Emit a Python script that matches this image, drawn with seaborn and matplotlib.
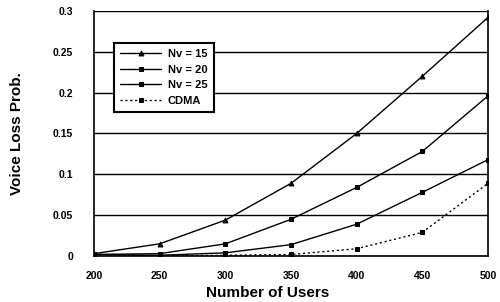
import numpy as np
import pandas as pd
import matplotlib
matplotlib.use("Agg")
import matplotlib.pyplot as plt
import seaborn as sns

# valores
users = [200, 250, 300, 350, 400, 450, 500]
nv15 = [0.003, 0.015, 0.044, 0.089, 0.150, 0.220, 0.292]
nv20 = [0.002, 0.003, 0.015, 0.045, 0.084, 0.128, 0.196]
nv25 = [0.002, 0.001, 0.004, 0.014, 0.039, 0.078, 0.118]
cdma = [0.002, 0.000, 0.001, 0.002, 0.009, 0.029, 0.089]
series_names = ["Nv = 15", "Nv = 20", "Nv = 25", "CDMA"]
y_ticks = [0, 0.05, 0.1, 0.15, 0.2, 0.25, 0.3]
y_tick_labels = ["0", "0.05", "0.1", "0.15", "0.2", "0.25", "0.3"]

df = pd.DataFrame({
    "users": users * 4,
    "prob": nv15 + nv20 + nv25 + cdma,
    "serie": np.repeat(series_names, len(users)),
})

sns.set_style("white")
plt.rcParams['font.family'] = ['Liberation Sans', 'DejaVu Sans']
plt.rcParams['font.weight'] = 'bold'
plt.rcParams['text.color'] = 'black'
plt.rcParams['axes.labelcolor'] = 'black'
plt.rcParams['xtick.color'] = 'black'
plt.rcParams['ytick.color'] = 'black'

fig = plt.figure(figsize=(5, 3.02), dpi=100)
ax = fig.add_axes([0.188, 0.152, 0.788, 0.812])

# linhas de grade horizontais
for t in y_ticks:
    ax.axhline(t, color="black", lw=1.0, zorder=1)

sns.lineplot(data=df, x="users", y="prob", hue="serie", style="serie",
             palette=["black"] * 4,
             dashes={"Nv = 15": "", "Nv = 20": "", "Nv = 25": "", "CDMA": (1.5, 2)},
             markers={"Nv = 15": "^", "Nv = 20": "s", "Nv = 25": "s", "CDMA": "s"},
             markersize=3.5, linewidth=1.0, markeredgecolor="black",
             ax=ax, zorder=3)

ax.set_xlim(200, 500)
ax.set_ylim(0, 0.3)
ax.set_xticks(users)
ax.set_xticklabels([str(u) for u in users], fontsize=7.5, fontweight="bold")
ax.set_yticks(y_ticks)
ax.set_yticklabels(y_tick_labels, fontsize=7.5, fontweight="bold")
ax.tick_params(axis="both", length=0)
ax.tick_params(axis="x", pad=11)
ax.tick_params(axis="y", pad=15)
ax.set_xlabel("Number of Users", fontsize=11, fontweight="bold")
ax.set_ylabel("Voice Loss Prob.", fontsize=11, fontweight="bold")
ax.xaxis.set_label_coords(0.44, -0.12)
ax.yaxis.set_label_coords(-0.178, 0.5)

for s in ["left", "right", "bottom"]:
    ax.spines[s].set_color("black")
    ax.spines[s].set_linewidth(1.2)
ax.spines["top"].set_visible(False)

leg = ax.legend(loc="upper left", bbox_to_anchor=(0.051, 0.869), frameon=True,
                fancybox=False, edgecolor="black", framealpha=1,
                prop={"size": 8, "weight": "bold"}, handlelength=3.7,
                borderpad=0.55, labelspacing=0.5, handletextpad=0.6,
                borderaxespad=0)
leg.get_frame().set_linewidth(1.5)

fig.savefig("out.png", dpi=100)
